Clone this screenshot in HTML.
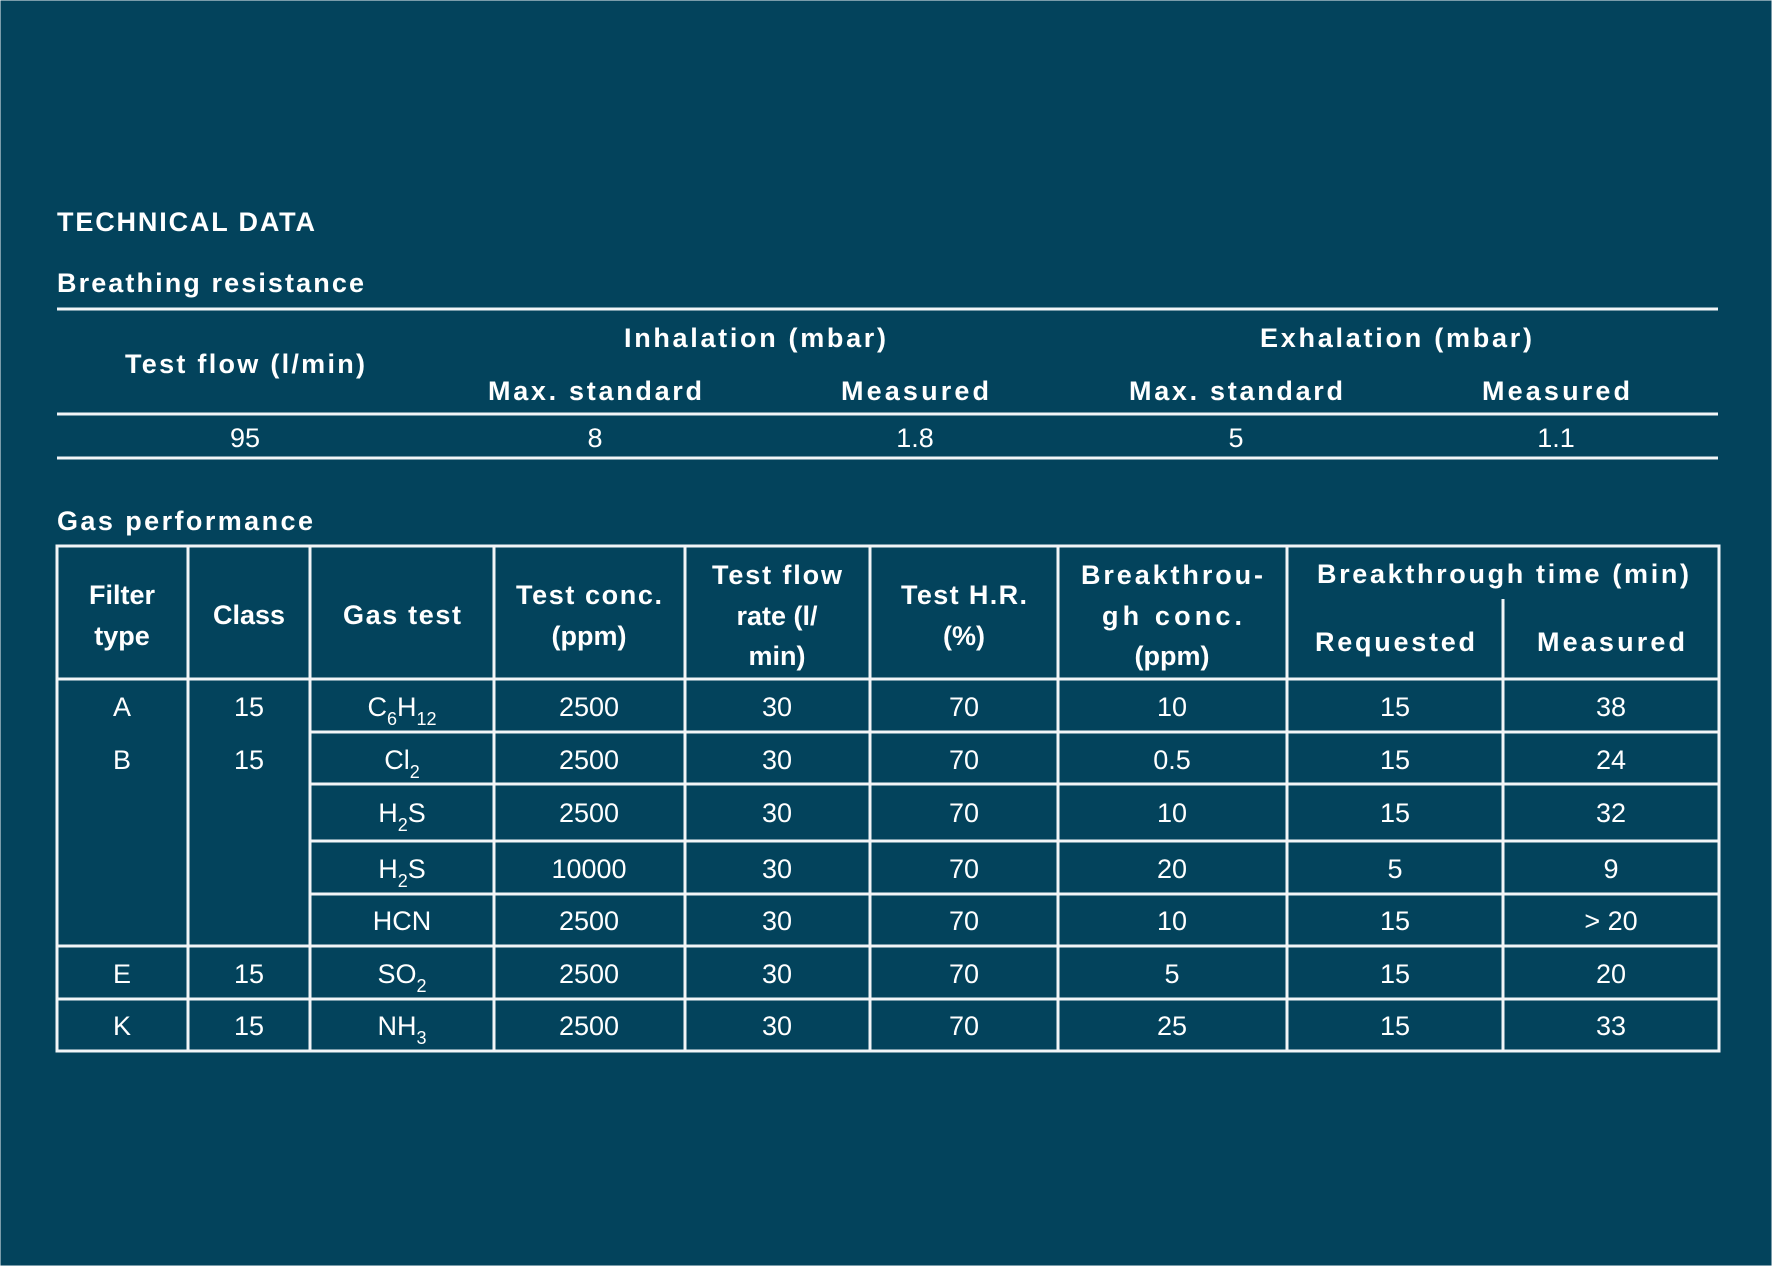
<!DOCTYPE html>
<html><head><meta charset="utf-8"><style>
html,body{margin:0;padding:0;background:#03435c;}
svg{display:block;}
text{font-family:"Liberation Sans",sans-serif;fill:#fff;}
.h{font-weight:bold;font-size:27px;}
.d{font-size:27px;}
.t{font-weight:bold;font-size:27px;}
line,rect{stroke:#f2f5f7;}
</style></head><body>
<svg width="1772" height="1266" viewBox="0 0 1772 1266">
<rect x="0" y="0" width="1772" height="1266" fill="#03435c" stroke="none"/>
<text x="57" y="231" class="t" textLength="258">TECHNICAL DATA</text>
<text x="57" y="292" class="t" textLength="307">Breathing resistance</text>
<g stroke-width="3">
<line x1="57" y1="309" x2="1718" y2="309"/>
<line x1="57" y1="414" x2="1718" y2="414"/>
<line x1="57" y1="458" x2="1718" y2="458"/>
</g>
<g class="h" text-anchor="middle">
<text x="245" y="373" class="h" textLength="240">Test flow (l/min)</text>
<text x="755" y="347" class="h" textLength="262">Inhalation (mbar)</text>
<text x="1396" y="347" class="h" textLength="272">Exhalation (mbar)</text>
<text x="595" y="400" class="h" textLength="214">Max. standard</text>
<text x="915" y="400" class="h" textLength="148">Measured</text>
<text x="1236" y="400" class="h" textLength="214">Max. standard</text>
<text x="1556" y="400" class="h" textLength="148">Measured</text>
</g>
<g class="d" text-anchor="middle">
<text x="245" y="447" class="d">95</text>
<text x="595" y="447" class="d">8</text>
<text x="915" y="447" class="d">1.8</text>
<text x="1236" y="447" class="d">5</text>
<text x="1556" y="447" class="d">1.1</text>
</g>
<text x="57" y="530" class="t" textLength="256">Gas performance</text>
<g stroke-width="3" fill="none">
<rect x="57" y="546" width="1662" height="505"/>
<line x1="188" y1="546" x2="188" y2="1051"/>
<line x1="310" y1="546" x2="310" y2="1051"/>
<line x1="494" y1="546" x2="494" y2="1051"/>
<line x1="685" y1="546" x2="685" y2="1051"/>
<line x1="870" y1="546" x2="870" y2="1051"/>
<line x1="1058" y1="546" x2="1058" y2="1051"/>
<line x1="1287" y1="546" x2="1287" y2="1051"/>
<line x1="1503" y1="599" x2="1503" y2="1051"/>
<line x1="57" y1="679" x2="1719" y2="679"/>
<line x1="310" y1="732" x2="1719" y2="732"/>
<line x1="310" y1="784" x2="1719" y2="784"/>
<line x1="310" y1="841" x2="1719" y2="841"/>
<line x1="310" y1="894" x2="1719" y2="894"/>
<line x1="57" y1="946" x2="1719" y2="946"/>
<line x1="57" y1="999" x2="1719" y2="999"/>
</g>
<g text-anchor="middle">
<text x="122" y="604" class="h">Filter</text>
<text x="122" y="645" class="h">type</text>
<text x="249" y="624" class="h">Class</text>
<text x="402" y="624" class="h" textLength="118">Gas test</text>
<text x="589" y="604" class="h" textLength="146">Test conc.</text>
<text x="589" y="645" class="h">(ppm)</text>
<text x="777" y="584" class="h" textLength="130">Test flow</text>
<text x="777" y="625" class="h">rate (l/</text>
<text x="777" y="665" class="h">min)</text>
<text x="964" y="604" class="h" textLength="126">Test H.R.</text>
<text x="964" y="645" class="h">(%)</text>
<text x="1172" y="584" class="h" textLength="182">Breakthrou-</text>
<text x="1172" y="625" class="h" textLength="140">gh conc.</text>
<text x="1172" y="665" class="h">(ppm)</text>
<text x="1503" y="583" class="h" textLength="372">Breakthrough time (min)</text>
<text x="1395" y="651" class="h" textLength="160">Requested</text>
<text x="1611" y="651" class="h" textLength="148">Measured</text>
</g>
<g class="d" text-anchor="middle">
<!-- row A -->
<text x="122" y="716" class="d">A</text>
<text x="249" y="716" class="d">15</text>
<text x="402" y="716" class="d">C<tspan font-size="18" dy="9">6</tspan><tspan dy="-9">H</tspan><tspan font-size="18" dy="9">12</tspan></text>
<text x="589" y="716" class="d">2500</text>
<text x="777" y="716" class="d">30</text>
<text x="964" y="716" class="d">70</text>
<text x="1172" y="716" class="d">10</text>
<text x="1395" y="716" class="d">15</text>
<text x="1611" y="716" class="d">38</text>
<!-- row B Cl2 -->
<text x="122" y="769" class="d">B</text>
<text x="249" y="769" class="d">15</text>
<text x="402" y="769" class="d">Cl<tspan font-size="18" dy="9">2</tspan></text>
<text x="589" y="769" class="d">2500</text>
<text x="777" y="769" class="d">30</text>
<text x="964" y="769" class="d">70</text>
<text x="1172" y="769" class="d">0.5</text>
<text x="1395" y="769" class="d">15</text>
<text x="1611" y="769" class="d">24</text>
<!-- H2S 2500 -->
<text x="402" y="822" class="d">H<tspan font-size="18" dy="9">2</tspan><tspan dy="-9">S</tspan></text>
<text x="589" y="822" class="d">2500</text>
<text x="777" y="822" class="d">30</text>
<text x="964" y="822" class="d">70</text>
<text x="1172" y="822" class="d">10</text>
<text x="1395" y="822" class="d">15</text>
<text x="1611" y="822" class="d">32</text>
<!-- H2S 10000 -->
<text x="402" y="878" class="d">H<tspan font-size="18" dy="9">2</tspan><tspan dy="-9">S</tspan></text>
<text x="589" y="878" class="d">10000</text>
<text x="777" y="878" class="d">30</text>
<text x="964" y="878" class="d">70</text>
<text x="1172" y="878" class="d">20</text>
<text x="1395" y="878" class="d">5</text>
<text x="1611" y="878" class="d">9</text>
<!-- HCN -->
<text x="402" y="930" class="d">HCN</text>
<text x="589" y="930" class="d">2500</text>
<text x="777" y="930" class="d">30</text>
<text x="964" y="930" class="d">70</text>
<text x="1172" y="930" class="d">10</text>
<text x="1395" y="930" class="d">15</text>
<text x="1611" y="930" class="d">&gt; 20</text>
<!-- E -->
<text x="122" y="983" class="d">E</text>
<text x="249" y="983" class="d">15</text>
<text x="402" y="983" class="d">SO<tspan font-size="18" dy="9">2</tspan></text>
<text x="589" y="983" class="d">2500</text>
<text x="777" y="983" class="d">30</text>
<text x="964" y="983" class="d">70</text>
<text x="1172" y="983" class="d">5</text>
<text x="1395" y="983" class="d">15</text>
<text x="1611" y="983" class="d">20</text>
<!-- K -->
<text x="122" y="1035" class="d">K</text>
<text x="249" y="1035" class="d">15</text>
<text x="402" y="1035" class="d">NH<tspan font-size="18" dy="9">3</tspan></text>
<text x="589" y="1035" class="d">2500</text>
<text x="777" y="1035" class="d">30</text>
<text x="964" y="1035" class="d">70</text>
<text x="1172" y="1035" class="d">25</text>
<text x="1395" y="1035" class="d">15</text>
<text x="1611" y="1035" class="d">33</text>
</g>
</svg>
</body></html>
